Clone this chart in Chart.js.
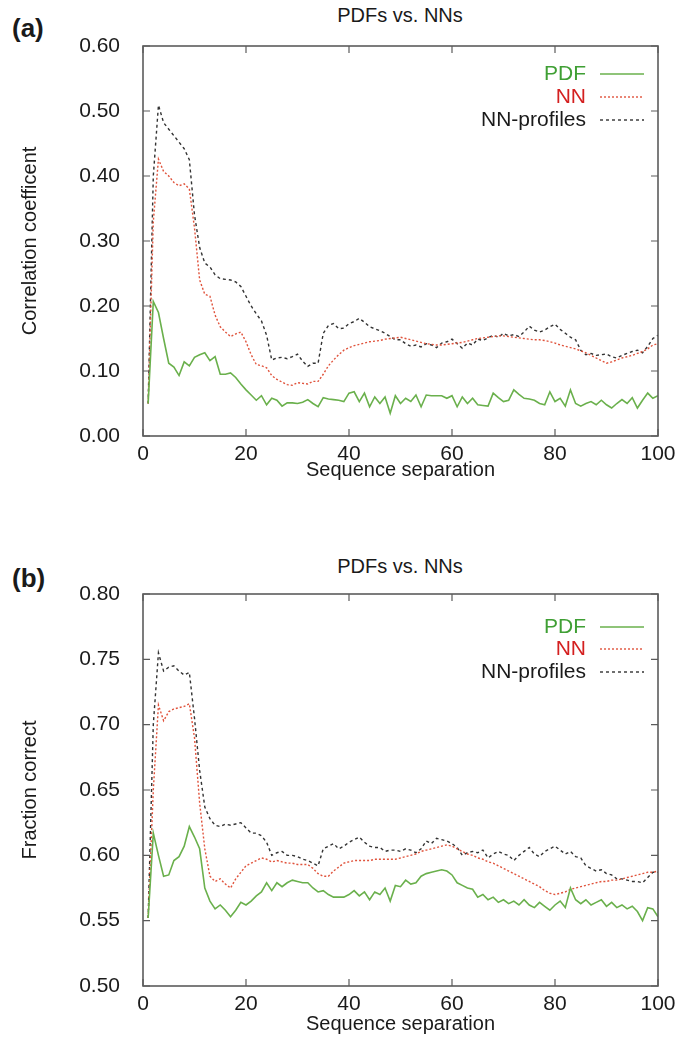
<!DOCTYPE html>
<html>
<head>
<meta charset="utf-8">
<script src="https://cdn.jsdelivr.net/npm/chart.js@4.4.1/dist/chart.umd.min.js"></script>
<style>
body{margin:0;background:#fff;width:680px;height:1043px;position:relative;overflow:hidden;font-family:"Liberation Sans",Arial,sans-serif;color:#1a1a1a}
.box{position:absolute;left:0;width:680px}
.panel{position:absolute;left:12px;font-weight:bold;font-size:26px;line-height:30px}
.title{position:absolute;left:250px;width:300px;text-align:center;font-size:20px;line-height:24px}
</style>
</head>
<body>
<div class="panel" style="top:13px">(a)</div>
<div class="title" style="top:3px">PDFs vs. NNs</div>
<div class="box" style="top:0;height:482px"><canvas id="chartA" width="680" height="482"></canvas></div>

<div class="panel" style="top:563px">(b)</div>
<div class="title" style="top:554px">PDFs vs. NNs</div>
<div class="box" style="top:482px;height:561px"><canvas id="chartB" width="680" height="561"></canvas></div>

<script>
// ================= DATA =================
const separations = Array.from({length:100}, (_, i) => i + 1);
const seriesNames = ["PDF", "NN", "NN-profiles"];

// (a) correlation coefficient
const corrPDF = [
  0.050,0.207,0.190,0.150,0.112,0.106,0.093,0.114,0.108,0.121,
  0.125,0.128,0.116,0.122,0.095,0.095,0.097,0.090,0.080,0.071,
  0.063,0.055,0.062,0.048,0.058,0.055,0.046,0.051,0.051,0.050,
  0.052,0.056,0.050,0.045,0.059,0.057,0.056,0.055,0.053,0.066,
  0.068,0.053,0.066,0.045,0.060,0.050,0.060,0.035,0.062,0.050,
  0.058,0.053,0.063,0.045,0.063,0.062,0.062,0.062,0.058,0.062,
  0.045,0.060,0.050,0.058,0.048,0.047,0.046,0.066,0.059,0.053,
  0.055,0.071,0.064,0.058,0.057,0.055,0.050,0.048,0.068,0.053,
  0.058,0.046,0.071,0.050,0.046,0.050,0.053,0.048,0.055,0.048,
  0.043,0.050,0.056,0.050,0.059,0.043,0.055,0.066,0.058,0.062
];
const corrNN = [
  0.050,0.330,0.426,0.407,0.400,0.390,0.385,0.388,0.380,0.320,
  0.240,0.218,0.215,0.186,0.168,0.160,0.153,0.157,0.160,0.145,
  0.125,0.110,0.108,0.105,0.093,0.087,0.083,0.079,0.078,0.082,
  0.081,0.080,0.084,0.084,0.095,0.108,0.117,0.125,0.132,0.136,
  0.139,0.141,0.143,0.145,0.146,0.147,0.149,0.150,0.151,0.152,
  0.150,0.148,0.146,0.144,0.142,0.141,0.140,0.140,0.141,0.142,
  0.143,0.144,0.146,0.148,0.150,0.151,0.152,0.153,0.154,0.154,
  0.153,0.152,0.151,0.150,0.149,0.148,0.148,0.147,0.145,0.143,
  0.140,0.138,0.136,0.134,0.131,0.128,0.124,0.120,0.116,0.112,
  0.114,0.117,0.120,0.122,0.124,0.127,0.130,0.134,0.140,0.142
];
const corrProf = [
  0.050,0.400,0.509,0.482,0.472,0.462,0.452,0.442,0.425,0.340,
  0.290,0.266,0.260,0.248,0.242,0.241,0.240,0.237,0.230,0.215,
  0.200,0.188,0.177,0.155,0.117,0.120,0.121,0.119,0.122,0.126,
  0.115,0.107,0.112,0.112,0.158,0.170,0.173,0.165,0.166,0.173,
  0.176,0.181,0.175,0.168,0.165,0.162,0.158,0.153,0.148,0.148,
  0.142,0.138,0.140,0.137,0.142,0.140,0.136,0.143,0.145,0.149,
  0.142,0.135,0.143,0.140,0.149,0.147,0.151,0.155,0.152,0.158,
  0.154,0.156,0.153,0.160,0.169,0.163,0.160,0.163,0.168,0.172,
  0.164,0.158,0.152,0.148,0.132,0.125,0.127,0.124,0.125,0.126,
  0.122,0.120,0.124,0.127,0.130,0.132,0.128,0.138,0.150,0.155
];

// (b) fraction correct
const fracPDF = [
  0.552,0.617,0.600,0.584,0.585,0.596,0.599,0.607,0.622,0.614,
  0.605,0.575,0.565,0.559,0.562,0.558,0.553,0.558,0.564,0.562,
  0.565,0.569,0.572,0.579,0.573,0.579,0.576,0.579,0.581,0.580,
  0.579,0.579,0.575,0.572,0.573,0.570,0.568,0.568,0.568,0.570,
  0.573,0.569,0.572,0.566,0.572,0.570,0.575,0.565,0.577,0.576,
  0.581,0.578,0.579,0.584,0.586,0.587,0.588,0.589,0.588,0.585,
  0.579,0.577,0.575,0.574,0.568,0.570,0.566,0.568,0.564,0.566,
  0.563,0.565,0.562,0.566,0.562,0.560,0.564,0.561,0.558,0.562,
  0.565,0.560,0.575,0.566,0.563,0.566,0.562,0.564,0.566,0.561,
  0.564,0.560,0.562,0.559,0.561,0.557,0.550,0.560,0.559,0.553
];
const fracNN = [
  0.552,0.650,0.715,0.703,0.710,0.712,0.713,0.714,0.716,0.690,
  0.640,0.605,0.584,0.580,0.582,0.578,0.575,0.582,0.587,0.592,
  0.594,0.596,0.598,0.597,0.595,0.596,0.595,0.594,0.594,0.593,
  0.593,0.593,0.590,0.586,0.584,0.584,0.588,0.591,0.594,0.595,
  0.596,0.596,0.596,0.596,0.597,0.597,0.597,0.597,0.597,0.598,
  0.599,0.600,0.601,0.603,0.604,0.605,0.606,0.607,0.608,0.607,
  0.605,0.603,0.601,0.600,0.598,0.597,0.595,0.594,0.592,0.590,
  0.588,0.586,0.584,0.582,0.580,0.578,0.576,0.573,0.571,0.570,
  0.571,0.572,0.574,0.575,0.576,0.577,0.578,0.579,0.580,0.580,
  0.581,0.581,0.582,0.583,0.584,0.585,0.586,0.587,0.587,0.588
];
const fracProf = [
  0.552,0.700,0.755,0.741,0.744,0.745,0.741,0.738,0.740,0.705,
  0.665,0.637,0.628,0.623,0.622,0.624,0.623,0.624,0.625,0.621,
  0.617,0.617,0.615,0.610,0.600,0.602,0.603,0.600,0.600,0.599,
  0.597,0.596,0.594,0.592,0.605,0.607,0.609,0.605,0.607,0.610,
  0.612,0.614,0.610,0.607,0.606,0.606,0.603,0.604,0.604,0.603,
  0.605,0.604,0.602,0.605,0.611,0.609,0.613,0.612,0.611,0.609,
  0.606,0.600,0.602,0.603,0.602,0.604,0.598,0.601,0.603,0.601,
  0.600,0.596,0.600,0.603,0.606,0.601,0.599,0.603,0.605,0.607,
  0.604,0.601,0.603,0.599,0.598,0.592,0.590,0.588,0.589,0.586,
  0.585,0.582,0.582,0.581,0.580,0.580,0.579,0.583,0.587,0.587
];

const xTicks = [0, 20, 40, 60, 80, 100];
const corrTicks = [0, 0.1, 0.2, 0.3, 0.4, 0.5, 0.6];
const fracTicks = [0.50, 0.55, 0.60, 0.65, 0.70, 0.75, 0.80];

// ================= STYLE =================
const FONT = "'Liberation Sans', Arial, sans-serif";
const lineColors = ["#6ab04c", "#e0533c", "#333333"];
const keyColors = ["#3f9f34", "#d42020", "#1a1a1a"];
const dashes = [[], [2, 2], [3, 3]];

// frame + inward ticks like gnuplot
const frame = {
    id: "frame",
    afterDatasetsDraw(chart){
        const {ctx, chartArea:a, scales:{x, y}} = chart;
        ctx.save();
        ctx.strokeStyle = "#5c5c5c";
        ctx.lineWidth = 1.2;
        ctx.beginPath();
        x.ticks.forEach(t=>{
            const px = x.getPixelForValue(t.value);
            ctx.moveTo(px, a.bottom); ctx.lineTo(px, a.bottom - 7);
            ctx.moveTo(px, a.top); ctx.lineTo(px, a.top + 7);
        });
        y.ticks.forEach(t=>{
            const py = y.getPixelForValue(t.value);
            ctx.moveTo(a.left, py); ctx.lineTo(a.left + 7, py);
            ctx.moveTo(a.right, py); ctx.lineTo(a.right - 7, py);
        });
        ctx.stroke();
        ctx.lineWidth = 1.6;
        ctx.strokeRect(a.left, a.top, a.right - a.left, a.bottom - a.top);
        ctx.restore();
    }
};

// key in the top right corner: label, then line sample
const keyBox = {
    id: "keyBox",
    afterDraw(chart, args, opts){
        const {ctx, chartArea:a} = chart;
        ctx.save();
        ctx.font = "21px " + FONT;
        ctx.textAlign = "right";
        ctx.textBaseline = "middle";
        chart.data.datasets.forEach((ds, i)=>{
            const yy = a.top + opts.rows[i];
            ctx.fillStyle = keyColors[i];
            ctx.fillText(ds.label, a.right - opts.gap, yy);
            ctx.strokeStyle = ds.borderColor;
            ctx.lineWidth = ds.borderWidth;
            ctx.setLineDash(ds.borderDash);
            ctx.beginPath();
            ctx.moveTo(a.right - opts.gap + 14, yy);
            ctx.lineTo(a.right - 14, yy);
            ctx.stroke();
        });
        ctx.restore();
    }
};

function makeChart(id, series, yTicks, yTitle, pad, axisH, rows){
    const datasets = series.map((vals, i)=>({
        label: seriesNames[i],
        data: separations.map((s, j)=>({x: s, y: vals[j]})),
        borderColor: lineColors[i],
        borderWidth: i === 0 ? 1.6 : 1.4,
        borderDash: dashes[i],
        pointRadius: 0,
        tension: 0,
        fill: false,
        order: i
    }));

    return new Chart(document.getElementById(id), {
        type: "line",
        data: {datasets},
        plugins: [frame, keyBox],
        options: {
            responsive: false,
            animation: false,
            layout: {padding: pad},
            plugins: {
                legend: {display: false},
                tooltip: {enabled: false},
                keyBox: {rows: rows, gap: 72}
            },
            scales: {
                x: {
                    type: "linear", min: 0, max: 100,
                    afterBuildTicks: s=>{ s.ticks = xTicks.map(v=>({value:v})); },
                    afterFit: s=>{ s.height = axisH; },
                    grid: {display: false},
                    border: {display: false},
                    ticks: {padding: -2, color: "#1a1a1a", font: {family: FONT, size: 21}, maxRotation: 0},
                    title: {display: true, text: "Sequence separation", color: "#1a1a1a",
                        font: {family: FONT, size: 20}, padding: {top: 0, bottom: 0}}
                },
                y: {
                    min: yTicks[0], max: yTicks[yTicks.length - 1],
                    afterBuildTicks: s=>{ s.ticks = yTicks.map(v=>({value:v})); },
                    afterFit: s=>{ s.width = 143; },
                    grid: {display: false},
                    border: {display: false},
                    ticks: {padding: 15, color: "#1a1a1a", font: {family: FONT, size: 21},
                        callback: v=>v.toFixed(2)},
                    title: {display: true, text: yTitle, color: "#1a1a1a",
                        font: {family: FONT, size: 20}, padding: {top: 18, bottom: 0}}
                }
            }
        }
    });
}

makeChart("chartA", [corrPDF, corrNN, corrProf], corrTicks, "Correlation coefficent",
    {top: 46, right: 22, left: 0, bottom: 0}, 46, [28, 51, 74]);
makeChart("chartB", [fracPDF, fracNN, fracProf], fracTicks, "Fraction correct",
    {top: 112, right: 22, left: 0, bottom: 7}, 50, [33, 55, 78]);
</script>
</body>
</html>
